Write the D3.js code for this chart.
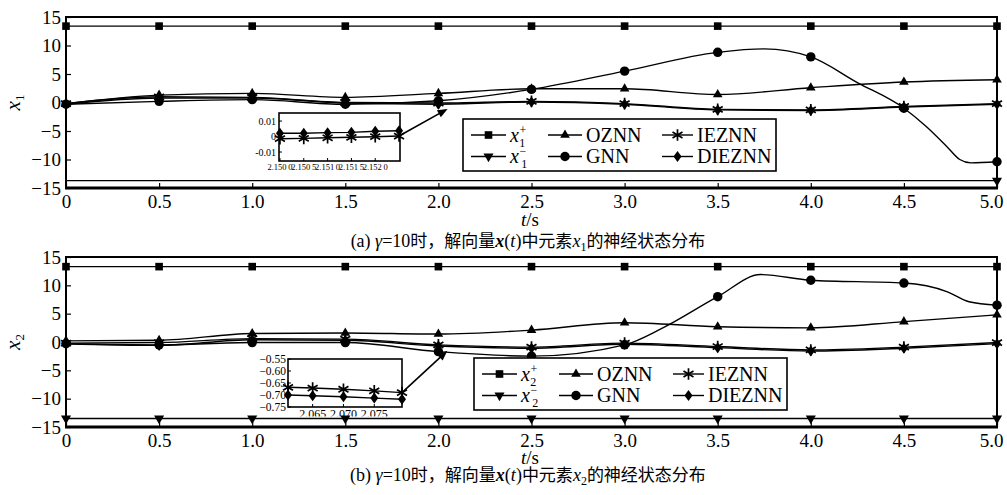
<!DOCTYPE html>
<html>
<head>
<meta charset="utf-8">
<script src="https://cdn.jsdelivr.net/npm/d3@7"></script>
<style>
  html, body { margin: 0; padding: 0; background: #fff; }
  svg { display: block; }
</style>
</head>
<body>
<svg id="chart" width="1007" height="495"></svg>
<script>
// ---------------- shared axes ----------------
const tMarks = [0, 0.5, 1.0, 1.5, 2.0, 2.5, 3.0, 3.5, 4.0, 4.5, 5.0];
const tTickLabels = ["0", "0.5", "1.0", "1.5", "2.0", "2.5", "3.0", "3.5", "4.0", "4.5", "5.0"];
const yTicks = [15, 10, 5, 0, -5, -10, -15];
const yTickText = ["15", "10", "5", "0", "\u22125", "\u221210", "\u221215"];
const legendNames = ["OZNN", "GNN", "IEZNN", "DIEZNN"];

// ---------------- panel (a): x1 ----------------
const aUpper  = [13.4, 13.4, 13.4, 13.4, 13.4, 13.4, 13.4, 13.4, 13.4, 13.4, 13.4];
const aLower  = [-13.7, -13.7, -13.7, -13.7, -13.7, -13.7, -13.7, -13.7, -13.7, -13.7, -13.7];
const aLowerMarks = [5.0];
const aOZNN   = [-0.2, 1.3, 1.6, 0.9, 1.6, 2.4, 2.4, 1.4, 2.6, 3.6, 4.0];
const aGNNt   = [0, 0.5, 1.0, 1.5, 2.0, 2.5, 3.0, 3.5, 3.75, 4.0, 4.25, 4.5, 4.62, 4.73, 4.8, 4.86, 5.0];
const aGNN    = [-0.3, 0.2, 0.5, -0.3, 0.3, 2.3, 5.5, 8.8, 9.4, 8.0, 3.5, -1.0, -4.2, -7.7, -10.0, -10.6, -10.4];
const aIEZNN  = [-0.2, 1.0, 0.9, 0.0, -0.1, 0.2, -0.2, -1.2, -1.3, -0.7, -0.2];
const aDIEZNN = [-0.3, 0.8, 0.8, -0.1, -0.3, 0.1, -0.3, -1.3, -1.4, -0.8, -0.3];
// zoomed detail near t = 2.15 s
const aInsetT      = [2.1500, 2.1505, 2.1510, 2.1515, 2.1520, 2.1525];
const aInsetIEZNN  = [-0.0014, -0.0012, -0.0008, -0.0005, -0.0001, 0.0003];
const aInsetDIEZNN = [0.0021, 0.0021, 0.0025, 0.0027, 0.0034, 0.0037];
const aInsetXTicks = [2.1500, 2.1505, 2.1510, 2.1515, 2.1520];
const aInsetXLabels = ["2.150\u20090", "2.150\u20095", "2.151\u20090", "2.151\u20095", "2.152\u20090"];
const aInsetYTicks = [0.01, 0, -0.01];
const aInsetYLabels = ["0.01", "0", "-0.01"];
const aPointer = [2.04, -1.3];

// ---------------- panel (b): x2 ----------------
const bUpper  = [13.3, 13.3, 13.3, 13.3, 13.3, 13.3, 13.3, 13.3, 13.3, 13.3, 13.3];
const bLower  = [-13.5, -13.5, -13.5, -13.5, -13.5, -13.5, -13.5, -13.5, -13.5, -13.5, -13.5];
const bLowerMarks = tMarks;
const bOZNN   = [0.2, 0.3, 1.5, 1.6, 1.4, 2.1, 3.4, 2.7, 2.5, 3.6, 4.8];
const bGNNt   = [0, 0.5, 1.0, 1.5, 2.0, 2.5, 3.0, 3.2, 3.5, 3.73, 4.0, 4.5, 4.73, 4.85, 5.0];
const bGNN    = [-0.3, -0.5, -0.1, -0.1, -1.7, -2.5, -0.5, 2.4, 8.0, 11.9, 10.9, 10.4, 8.9, 7.1, 6.5];
const bIEZNN  = [-0.2, -0.1, 0.6, 0.5, -0.5, -0.9, -0.2, -0.8, -1.4, -0.9, -0.1];
const bDIEZNN = [-0.3, -0.6, 0.4, 0.3, -0.7, -1.1, -0.4, -1.0, -1.6, -1.1, -0.3];
// zoomed detail near t = 2.07 s
const bInsetT      = [2.061, 2.065, 2.070, 2.075, 2.0795];
const bInsetIEZNN  = [-0.668, -0.671, -0.676, -0.683, -0.690];
const bInsetDIEZNN = [-0.700, -0.703, -0.707, -0.713, -0.718];
const bInsetXTicks = [2.065, 2.070, 2.075];
const bInsetXLabels = ["2.065", "2.070", "2.075"];
const bInsetYTicks = [-0.55, -0.60, -0.65, -0.70, -0.75];
const bInsetYLabels = ["\u22120.55", "\u22120.60", "\u22120.65", "\u22120.70", "\u22120.75"];
const bPointer = [2.04, -1.8];

// ---------------- drawing helpers ----------------
const svg = d3.select("#chart");
const SERIF = "'Liberation Serif','Times New Roman',serif";
const CJK = "'Noto Sans CJK SC','Noto Sans CJK JP',sans-serif";

function markerPath(type) {
  switch (type) {
    case "square":  return d3.symbol(d3.symbolSquare, 58)();
    case "triUp":   return d3.symbol(d3.symbolTriangle, 40)();
    case "triDown": return d3.symbol(d3.symbolTriangle, 44)();
    case "circle":  return d3.symbol(d3.symbolCircle, 70)();
    case "diamond": return "M0,-5.5L4,0L0,5.5L-4,0Z";
    case "star":    return "M0,-5.8V5.8M-5,-2.9L5,2.9M-5,2.9L5,-2.9";
  }
}
function drawMarker(g, type, cx, cy) {
  const p = g.append("path")
    .attr("d", markerPath(type))
    .attr("transform", `translate(${cx},${cy})` + (type === "triDown" ? " rotate(180)" : ""));
  if (type === "star") p.attr("fill", "none").attr("stroke", "#000").attr("stroke-width", 1.7);
  else p.attr("fill", "#000");
}

// bound name with stacked sub/superscript, e.g. x with 1 below and + above
function boundLabel(sel, sub, sign) {
  sel.append("tspan").attr("font-style", "italic").text("x");
  sel.append("tspan").attr("font-size", 12).attr("dy", -8).attr("dx", 0.5).text(sign);
  sel.append("tspan").attr("font-size", 12).attr("dy", 13).attr("dx", sign === "+" ? -7 : -5).text(sub);
}

function drawPanel(p) {
  const x = d3.scaleLinear().domain([0, 5]).range([66, 997]);
  const y = d3.scaleLinear().domain([-15, 15]).range([p.bottom, p.top]);
  const g = svg.append("g");

  // frame
  g.append("rect")
    .attr("x", x(0)).attr("y", y(15))
    .attr("width", x(5) - x(0)).attr("height", y(-15) - y(15))
    .attr("fill", "none").attr("stroke", "#000").attr("stroke-width", 2);
  g.append("line")
    .attr("x1", x(0) - 1).attr("x2", x(5) + 1)
    .attr("y1", y(-15)).attr("y2", y(-15))
    .attr("stroke", "#000").attr("stroke-width", 3);

  // axes
  const yAxis = g.append("g").attr("transform", `translate(${x(0)},0)`)
    .call(d3.axisLeft(y).tickValues(yTicks).tickSize(-5).tickPadding(5)
      .tickFormat((d, i) => yTickText[i]));
  const xAxis = g.append("g").attr("transform", `translate(0,${y(-15)})`)
    .call(d3.axisBottom(x).tickValues(tMarks).tickSize(-5).tickPadding(7)
      .tickFormat((d, i) => tTickLabels[i]));
  [yAxis, xAxis].forEach(a => {
    a.select(".domain").remove();
    a.selectAll(".tick line").attr("stroke", "#000").attr("stroke-width", 1.2);
    a.selectAll(".tick text").attr("font-family", SERIF).attr("font-size", 19).attr("fill", "#000");
  });
  // keep the last time label inside the page
  xAxis.selectAll(".tick text").filter((d, i) => i === tMarks.length - 1).attr("dx", -6);

  // y label
  const yl = g.append("text")
    .attr("transform", `translate(20,${y(0)}) rotate(-90)`)
    .attr("text-anchor", "middle")
    .attr("font-family", SERIF).attr("font-size", 21);
  yl.append("tspan").attr("font-style", "italic").text("x");
  yl.append("tspan").attr("font-size", 13).attr("dy", 4).text(p.sub);

  // t/s label
  const tl = g.append("text").attr("x", 530).attr("y", p.tsY)
    .attr("text-anchor", "middle").attr("font-family", SERIF).attr("font-size", 19);
  tl.append("tspan").attr("font-style", "italic").text("t");
  tl.append("tspan").text("/s");

  // series
  const line = d3.line().x(d => x(d[0])).y(d => y(d[1])).curve(d3.curveMonotoneX);
  const series = [
    { t: tMarks, v: p.upper,  m: "square",  marks: tMarks },
    { t: tMarks, v: p.lower,  m: "triDown", marks: p.lowerMarks },
    { t: tMarks, v: p.oznn,   m: "triUp",   marks: tMarks },
    { t: p.gnnT, v: p.gnn,    m: "circle",  marks: tMarks },
    { t: tMarks, v: p.ieznn,  m: "star",    marks: tMarks },
    { t: tMarks, v: p.dieznn, m: "diamond", marks: tMarks }
  ];
  series.forEach(s => {
    const pts = s.t.map((t, i) => [t, s.v[i]]);
    g.append("path").attr("d", line(pts))
      .attr("fill", "none").attr("stroke", "#000").attr("stroke-width", 1.4);
  });
  series.forEach(s => {
    s.t.forEach((t, i) => {
      if (s.marks.includes(t)) drawMarker(g, s.m, x(t), y(s.v[i]));
    });
  });

  // inset
  const ins = p.inset;
  const ix = d3.scaleLinear().domain(ins.xDomain).range([ins.x0, ins.x1]);
  const iy = d3.scaleLinear().domain(ins.yDomain).range([ins.y1, ins.y0]);
  const ig = g.append("g");
  // pointer from the inset curve end to the zoomed spot
  const last = ins.t.length - 1;
  const sx = ix(ins.t[last]), sy = iy(ins.ieznn[last]);
  const px = x(p.pointer[0]), py = y(p.pointer[1]);
  const ang = Math.atan2(py - sy, px - sx) * 180 / Math.PI;
  ig.append("line").attr("x1", sx).attr("y1", sy).attr("x2", px).attr("y2", py)
    .attr("stroke", "#000").attr("stroke-width", 1.6);
  ig.append("path").attr("d", "M2,0L-8,-4L-8,4Z")
    .attr("transform", `translate(${px},${py}) rotate(${ang})`).attr("fill", "#000");
  ig.append("rect").attr("x", ins.x0).attr("y", ins.y0)
    .attr("width", ins.x1 - ins.x0).attr("height", ins.y1 - ins.y0)
    .attr("fill", "#fff").attr("stroke", "#000").attr("stroke-width", 1.6);
  ins.yTicks.forEach((v, i) => {
    ig.append("line").attr("x1", ins.x0).attr("x2", ins.x0 + 3)
      .attr("y1", iy(v)).attr("y2", iy(v)).attr("stroke", "#000");
    ig.append("text").attr("x", ins.x0 - ins.yGap).attr("y", iy(v)).attr("dy", "0.35em")
      .attr("text-anchor", "end").attr("font-family", SERIF).attr("font-size", ins.yFont)
      .text(ins.yLabels[i]);
  });
  const clipId = "clip" + p.sub;
  ig.append("clipPath").attr("id", clipId).append("rect")
    .attr("x", 0).attr("y", 0).attr("width", 1007).attr("height", ins.labelClip);
  ins.xTicks.forEach((v, i) => {
    ig.append("line").attr("x1", ix(v)).attr("x2", ix(v))
      .attr("y1", ins.y1).attr("y2", ins.y1 - 3).attr("stroke", "#000");
    ig.append("text").attr("x", ix(v)).attr("y", ins.y1 + ins.xLabelDy)
      .attr("text-anchor", "middle").attr("font-family", SERIF).attr("font-size", ins.xFont)
      .attr("clip-path", `url(#${clipId})`)
      .text(ins.xLabels[i]);
  });
  const iline = d3.line().x(d => ix(d[0])).y(d => iy(d[1]));
  [[ins.ieznn, "star"], [ins.dieznn, "diamond"]].forEach(([vals, m]) => {
    const pts = ins.t.map((t, i) => [t, vals[i]]);
    ig.append("path").attr("d", iline(pts)).attr("fill", "none")
      .attr("stroke", "#000").attr("stroke-width", 1.4);
    pts.forEach(d => drawMarker(ig, m, ix(d[0]), iy(d[1])));
  });

  // legend
  const L = p.legend;
  const lg = g.append("g").attr("transform", `translate(${L.x},${L.y})`);
  lg.append("rect").attr("width", 313).attr("height", 52)
    .attr("fill", "#fff").attr("stroke", "#000").attr("stroke-width", 1.6);
  const cols = [[8, 43], [85, 119], [199, 230]];
  const rows = [16, 37.5];
  const entries = [
    { c: 0, r: 0, m: "square",  bound: "+" },
    { c: 0, r: 1, m: "triDown", bound: "\u2212" },
    { c: 1, r: 0, m: "triUp",   name: legendNames[0] },
    { c: 1, r: 1, m: "circle",  name: legendNames[1] },
    { c: 2, r: 0, m: "star",    name: legendNames[2] },
    { c: 2, r: 1, m: "diamond", name: legendNames[3] }
  ];
  entries.forEach(e => {
    const [a, b] = cols[e.c], yy = rows[e.r];
    lg.append("line").attr("x1", a).attr("x2", b).attr("y1", yy).attr("y2", yy)
      .attr("stroke", "#000").attr("stroke-width", 1.4);
    drawMarker(lg, e.m, (a + b) / 2, yy);
    const t = lg.append("text").attr("x", b + 4).attr("y", yy + 6.5)
      .attr("font-family", SERIF).attr("font-size", 20);
    if (e.bound) boundLabel(t, p.sub, e.bound);
    else t.text(e.name);
  });

  // caption
  const cap = g.append("text").attr("x", 528).attr("y", p.capY)
    .attr("text-anchor", "middle").attr("font-family", SERIF).attr("font-size", 18);
  cap.append("tspan").text(`(${p.letter}) `);
  cap.append("tspan").attr("font-style", "italic").text("\u03b3");
  cap.append("tspan").text("=10");
  cap.append("tspan").attr("font-family", CJK).attr("font-size", 17).text("时，解向量");
  cap.append("tspan").attr("font-style", "italic").attr("font-weight", "bold").text("x");
  cap.append("tspan").text("(");
  cap.append("tspan").attr("font-style", "italic").text("t");
  cap.append("tspan").text(")");
  cap.append("tspan").attr("font-family", CJK).attr("font-size", 17).text("中元素");
  cap.append("tspan").attr("font-style", "italic").text("x");
  cap.append("tspan").attr("font-size", 12).attr("dy", 4).text(p.sub);
  cap.append("tspan").attr("dy", -4).attr("font-family", CJK).attr("font-size", 17).text("的神经状态分布");
}

drawPanel({
  letter: "a", sub: "1", top: 17, bottom: 188, tsY: 226, capY: 247,
  upper: aUpper, lower: aLower, lowerMarks: aLowerMarks, oznn: aOZNN,
  gnnT: aGNNt, gnn: aGNN, ieznn: aIEZNN, dieznn: aDIEZNN, pointer: aPointer,
  inset: {
    x0: 279, x1: 400, y0: 113, y1: 161,
    xDomain: [2.14998, 2.15252], yDomain: [-0.0158, 0.0152],
    t: aInsetT, ieznn: aInsetIEZNN, dieznn: aInsetDIEZNN,
    xTicks: aInsetXTicks, xLabels: aInsetXLabels, yTicks: aInsetYTicks, yLabels: aInsetYLabels,
    xFont: 8.5, yFont: 10, yGap: 3, xLabelDy: 9, labelClip: 495
  },
  legend: { x: 463, y: 119 }
});

drawPanel({
  letter: "b", sub: "2", top: 257, bottom: 427, tsY: 464, capY: 481,
  upper: bUpper, lower: bLower, lowerMarks: bLowerMarks, oznn: bOZNN,
  gnnT: bGNNt, gnn: bGNN, ieznn: bIEZNN, dieznn: bDIEZNN, pointer: bPointer,
  inset: {
    x0: 288, x1: 402, y0: 359, y1: 407,
    xDomain: [2.061, 2.0795], yDomain: [-0.75, -0.55],
    t: bInsetT, ieznn: bInsetIEZNN, dieznn: bInsetDIEZNN,
    xTicks: bInsetXTicks, xLabels: bInsetXLabels, yTicks: bInsetYTicks, yLabels: bInsetYLabels,
    xFont: 12, yFont: 11.5, yGap: 2, xLabelDy: 11, labelClip: 416.5
  },
  legend: { x: 474, y: 358 }
});
</script>
</body>
</html>
